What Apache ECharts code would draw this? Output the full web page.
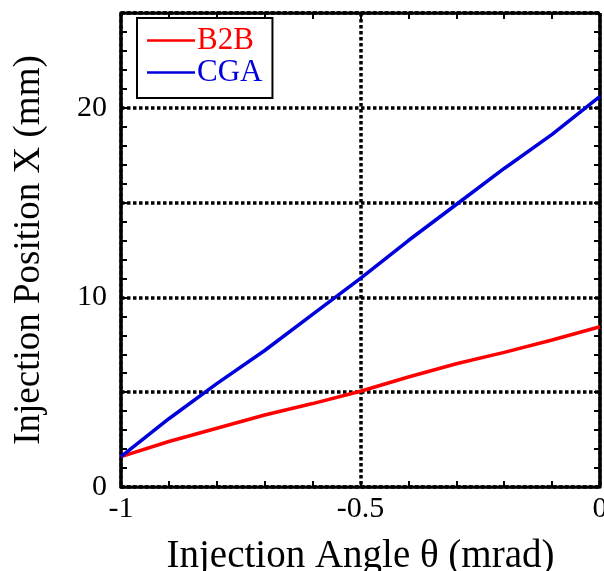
<!DOCTYPE html>
<html>
<head>
<meta charset="utf-8">
<script src="https://cdn.jsdelivr.net/npm/echarts@6/dist/echarts.min.js"></script>
<style>
	html, body { margin: 0; padding: 0; background: #fff; }
	#chart { width: 604px; height: 571px; }
</style>
</head>
<body>
<div id="chart"></div>
<script>
	// injection angle (mrad)
	var angles = [-1, -0.9, -0.8, -0.7, -0.6, -0.5, -0.4, -0.3, -0.2, -0.1, 0];
	// injection position X (mm)
	var b2b = [1.6, 2.4, 3.1, 3.8, 4.4, 5.05, 5.8, 6.5, 7.1, 7.75, 8.45];
	var cga = [1.6, 3.6, 5.45, 7.2, 9.1, 11.0, 13.0, 14.9, 16.8, 18.6, 20.6];
	var yLabels = [0, 10, 20];

	var font = 'Liberation Serif';

	function frame() {
		return { color: '#000', width: 3.5, type: [3.5, 2.5] };
	}
	function tickStyle() {
		return { color: '#000', width: 2 };
	}

	function pairs(ys) {
		return angles.map(function(a, i) { return [a, ys[i]]; });
	}

	function xBase() {
		return {
			type: 'value', min: -1, max: 0, interval: 0.5,
			axisLine: { show: true, onZero: false, lineStyle: frame() },
			axisTick: { show: true, inside: true, length: 6, lineStyle: tickStyle() },
			minorTick: { show: true, splitNumber: 5, length: 6, lineStyle: tickStyle() },
		};
	}
	function yBase() {
		return {
			type: 'value', min: 0, max: 25, interval: 5,
			axisLine: { show: true, onZero: false, lineStyle: frame() },
			axisTick: { show: true, inside: true, length: 6, lineStyle: tickStyle() },
			minorTick: { show: true, splitNumber: 5, length: 6, lineStyle: tickStyle() },
		};
	}

	var option = {
		animation: false,
		backgroundColor: '#fff',
		grid: { left: 121, right: 4, top: 13, bottom: 84, outerBoundsMode: 'none', containLabel: false },
		legend: {
			orient: 'vertical',
			left: 137, top: 18,
			padding: [7, 10, 10, 10],
			itemGap: 1,
			itemWidth: 48,
			itemHeight: 2.5,
			icon: 'rect',
			borderColor: '#000',
			borderWidth: 2,
			backgroundColor: '#fff',
			textStyle: { fontFamily: font, fontSize: 31, lineHeight: 30, padding: [0, 0, 0, -3] },
			data: [
				{ name: 'B2B', textStyle: { color: '#ff0000' } },
				{ name: 'CGA', textStyle: { color: '#0000dd' } }
			]
		},
		xAxis: [
			Object.assign(xBase(), {
				position: 'bottom',
				name: 'Injection Angle θ (mrad)',
				nameLocation: 'middle',
				nameGap: 50,
				nameTextStyle: { fontFamily: font, fontSize: 39, color: '#000' },
				axisLabel: { fontFamily: font, fontSize: 30, color: '#000', margin: 7 },
				splitLine: { show: true, lineStyle: frame() }
			}),
			Object.assign(xBase(), {
				position: 'top',
				axisLabel: { show: false },
				splitLine: { show: false }
			})
		],
		yAxis: [
			Object.assign(yBase(), {
				position: 'left',
				name: 'Injection Position X (mm)',
				nameLocation: 'middle',
				nameGap: 73,
				nameTextStyle: { fontFamily: font, fontSize: 37, color: '#000' },
				axisLabel: {
					fontFamily: font, fontSize: 30, color: '#000', margin: 14,
					formatter: function(v) { return yLabels.indexOf(v) >= 0 ? String(v) : ''; }
				},
				splitLine: { show: true, lineStyle: frame() }
			}),
			Object.assign(yBase(), {
				position: 'right',
				axisLabel: { show: false },
				splitLine: { show: false }
			})
		],
		series: [
			{
				name: 'B2B', type: 'line', symbol: 'none',
				lineStyle: { color: '#ff0000', width: 3.5 },
				itemStyle: { color: '#ff0000' },
				data: pairs(b2b), z: 3
			},
			{
				name: 'CGA', type: 'line', symbol: 'none',
				lineStyle: { color: '#0000dd', width: 3.5 },
				itemStyle: { color: '#0000dd' },
				data: pairs(cga), z: 4
			}
		]
	};

	var myChart = echarts.init(document.getElementById('chart'));
	myChart.setOption(option);
</script>
</body>
</html>
